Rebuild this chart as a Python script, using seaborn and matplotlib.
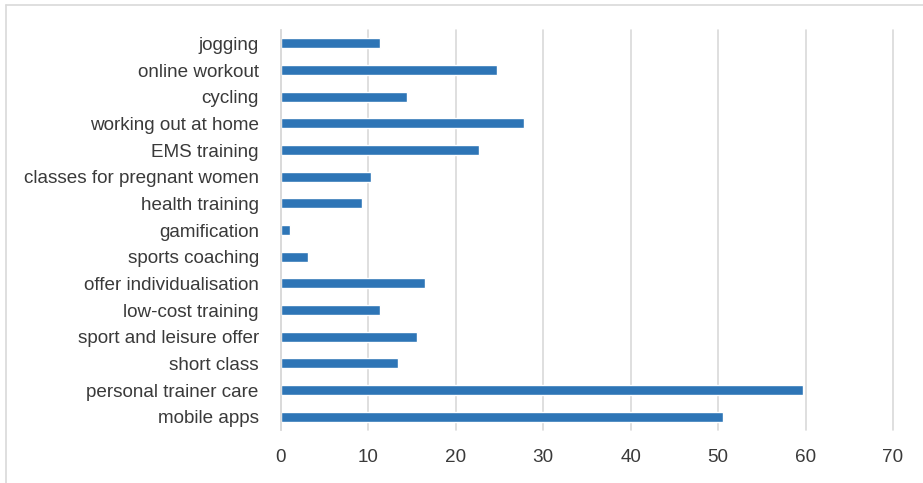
import matplotlib
matplotlib.use("Agg")
import matplotlib.pyplot as plt
from matplotlib.lines import Line2D
import seaborn as sns
import pandas as pd

activities = [
    "jogging", "online workout", "cycling", "working out at home",
    "EMS training", "classes for pregnant women", "health training",
    "gamification", "sports coaching", "offer individualisation",
    "low-cost training", "sport and leisure offer", "short class",
    "personal trainer care", "mobile apps",
]
shares = [11.3, 24.7, 14.4, 27.8, 22.7, 10.3, 9.3, 1.0, 3.1, 16.5,
          11.3, 15.5, 13.4, 59.7, 50.5]
x_ticks = [0, 10, 20, 30, 40, 50, 60, 70]

df = pd.DataFrame({"activity": activities, "share": shares})

sns.set_theme(style="white")
plt.rcParams["font.family"] = ["Liberation Sans", "DejaVu Sans"]

text_color = "#3A3A3A"
grid_color = "#D9D9D9"
bar_color = "#2E75B6"

fig = plt.figure(figsize=(9.23, 4.83), dpi=100)
ax = fig.add_axes([281 / 923, 1 - 430 / 483, 612 / 923, 400 / 483])

sns.barplot(data=df, x="share", y="activity", order=activities,
            color=bar_color, saturation=1, width=0.37, ax=ax)

ax.set_xlim(0, 70)
ax.set_ylim(len(activities) - 0.5, -0.5)
ax.set_xticks(x_ticks)
ax.set_xticklabels([str(t) for t in x_ticks])
ax.set_xlabel("")
ax.set_ylabel("")

ax.xaxis.grid(True, color=grid_color, linewidth=1.2)
for gl in ax.get_xgridlines():
    gl.set_clip_on(False)
ax.set_axisbelow(True)
for side in ["top", "right", "bottom"]:
    ax.spines[side].set_visible(False)
ax.spines["left"].set_color(grid_color)
ax.spines["left"].set_linewidth(1.2)

ax.tick_params(axis="both", length=0, labelsize=13.6, colors=text_color)
ax.tick_params(axis="y", pad=16)
ax.tick_params(axis="x", pad=14)

# light frame around the chart area (top and left edges)
frame_kw = dict(color=grid_color, linewidth=1.2, transform=fig.transFigure)
fig.add_artist(Line2D([6 / 923, 1.0], [1 - 5 / 483, 1 - 5 / 483], **frame_kw))
fig.add_artist(Line2D([6 / 923, 6 / 923], [0.0, 1 - 5 / 483], **frame_kw))

fig.savefig("out.png", dpi=100, facecolor="white")
